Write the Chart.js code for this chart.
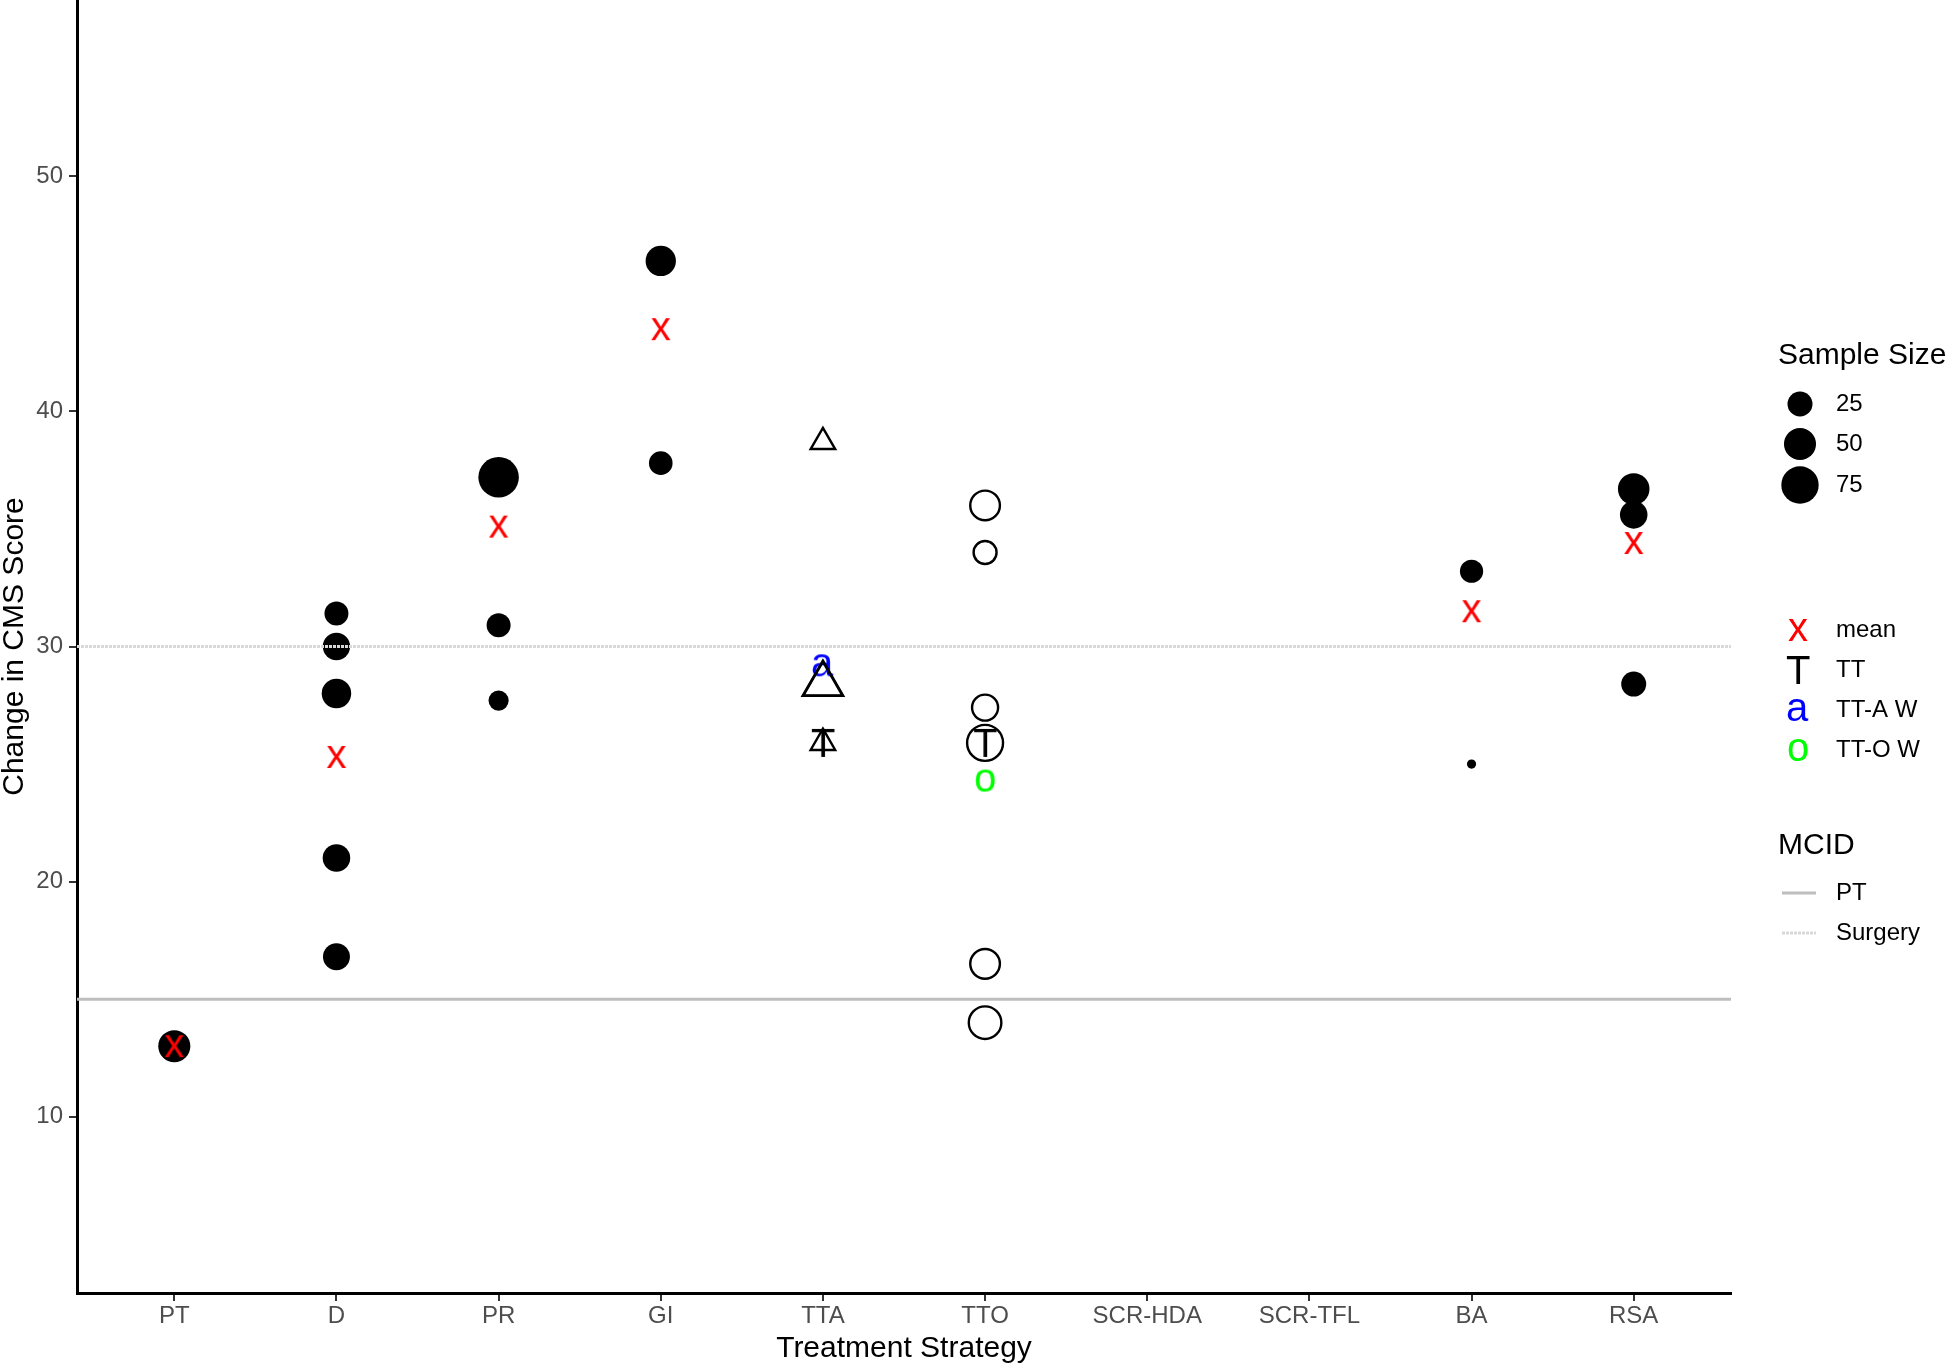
<!DOCTYPE html>
<html>
<head>
<meta charset="utf-8">
<script src="https://cdn.jsdelivr.net/npm/chart.js@4.4.0/dist/chart.umd.min.js"></script>
<style>
  html, body { margin: 0; padding: 0; background: #fff; }
  #wrap { position: relative; width: 1950px; height: 1367px; }
</style>
</head>
<body>
<div id="wrap"><canvas id="chart" width="1950" height="1367" style="width:1950px;height:1367px"></canvas></div>
<script>
const categories = ['PT', 'D', 'PR', 'GI', 'TTA', 'TTO', 'SCR-HDA', 'SCR-TFL', 'BA', 'RSA'];
const yTicks = [10, 20, 30, 40, 50];

// individual studies (filled dots)
const studyGroup = ['PT', 'D', 'D', 'D', 'D', 'D', 'PR', 'PR', 'PR', 'GI', 'GI', 'BA', 'BA', 'RSA', 'RSA', 'RSA'];
const studyChange = [13.0, 31.4, 30.0, 28.0, 21.0, 16.8, 37.2, 30.9, 27.7, 46.4, 37.8, 33.2, 25.0, 36.7, 35.6, 28.4];
const studySize = [50, 22, 32, 40, 33, 31, 92, 22, 13, 43, 21, 20, 2, 48, 33, 25];

// tendon transfer studies (open shapes)
const ttaChange = [38.7, 28.4, 28.4, 25.9];
const ttaSize = [14, 47, 52, 14];
const ttoChange = [36.0, 34.0, 27.4, 25.9, 16.5, 14.0];
const ttoSize = [50, 26, 36, 80, 50, 63];

// weighted means
const meanGroup = ['PT', 'D', 'PR', 'GI', 'BA', 'RSA'];
const meanChange = [13.0, 25.3, 35.1, 43.5, 31.5, 34.4];
const ttGroup = ['TTA', 'TTO'];
const ttChange = [25.9, 25.9];
const ttaWeighted = [29.2];
const ttoWeighted = [24.3];

// MCID thresholds
const mcidLabels = ['PT', 'Surgery'];
const mcidValues = [15, 30];

const legendSizes = [25, 50, 75];

const FONT = "'Liberation Sans', Arial, sans-serif";
const xMin = -0.6, xMax = 9.6;

Chart.defaults.font.family = FONT;

// marker radius from sample size (area-like scaling)
function sizeRadius(n) {
    return 4.6 + Math.sqrt(2.72 * Math.max(0, n - 2));
}

function drawGlyph(ctx, ch, color, x, y) {
    ctx.save();
    ctx.font = '40px ' + FONT;
    ctx.fillStyle = color;
    ctx.textAlign = 'left';
    ctx.textBaseline = 'alphabetic';
    const m = ctx.measureText(ch);
    ctx.fillText(ch, x - (m.actualBoundingBoxRight - m.actualBoundingBoxLeft) / 2,
        y + (m.actualBoundingBoxAscent - m.actualBoundingBoxDescent) / 2);
    ctx.restore();
}

function makeGlyph(ch, color) {
    const c = document.createElement('canvas');
    c.width = 60;
    c.height = 60;
    drawGlyph(c.getContext('2d'), ch, color, 30, 30);
    return c;
}

const idx = g => categories.indexOf(g);
const points = (groups, values, sizes) =>
    values.map((v, i) => ({ x: idx(groups[i]), y: v, n: sizes ? sizes[i] : 0 }));
const sameGroup = (g, values) => values.map(() => g);

const legendPlugin = {
    id: 'ggLegend',
    afterDraw(chart) {
        const ctx = chart.ctx;
        ctx.save();
        ctx.textAlign = 'left';
        ctx.textBaseline = 'middle';
        ctx.fillStyle = '#000';

        ctx.font = '30px ' + FONT;
        ctx.fillText('Sample Size', 1778, 356);
        const sizeY = [404, 444, 485];
        legendSizes.forEach((n, i) => {
            ctx.beginPath();
            ctx.arc(1800, sizeY[i], sizeRadius(n), 0, Math.PI * 2);
            ctx.fillStyle = '#000';
            ctx.fill();
            ctx.font = '24px ' + FONT;
            ctx.fillText(String(n), 1836, sizeY[i]);
        });

        const glyphs = [['x', '#FF0000', 'mean'], ['T', '#000000', 'TT'], ['a', '#0000FF', 'TT-A W'], ['o', '#00FF00', 'TT-O W']];
        glyphs.forEach((g, i) => {
            const y = 630 + i * 40;
            drawGlyph(ctx, g[0], g[1], 1798, y);
            ctx.fillStyle = '#000';
            ctx.font = '24px ' + FONT;
            ctx.fillText(g[2], 1836, y);
        });

        ctx.font = '30px ' + FONT;
        ctx.fillText('MCID', 1778, 846);
        mcidLabels.forEach((lab, i) => {
            const y = 893 + i * 40;
            ctx.beginPath();
            ctx.moveTo(1782, y);
            ctx.lineTo(1816, y);
            ctx.lineWidth = 3;
            ctx.strokeStyle = i === 0 ? '#BEBEBE' : '#D9D9D9';
            ctx.setLineDash(i === 0 ? [] : [3, 1]);
            ctx.stroke();
            ctx.setLineDash([]);
            ctx.font = '24px ' + FONT;
            ctx.fillText(lab, 1836, y);
        });
        ctx.restore();
    }
};

const mcidDatasets = mcidValues.map((v, i) => ({
    type: 'line',
    data: [{ x: xMin, y: v }, { x: xMax, y: v }],
    borderColor: i === 0 ? '#BEBEBE' : '#D9D9D9',
    borderDash: i === 0 ? [] : [3, 1],
    borderWidth: 3,
    pointRadius: 0,
    order: 0
}));

const glyphDataset = (data, glyph) => ({
    data: data,
    pointStyle: glyph,
    pointRadius: 10,
    order: 2
});

new Chart(document.getElementById('chart'), {
    type: 'scatter',
    data: {
        datasets: [
            ...mcidDatasets,
            {
                data: points(sameGroup('TTA', ttaChange), ttaChange, ttaSize),
                pointStyle: 'triangle',
                pointRadius: c => 1.555 * (sizeRadius(c.raw.n) - 1.2),
                backgroundColor: 'rgba(0,0,0,0)',
                borderColor: '#000',
                borderWidth: 2.4,
                order: 1
            },
            glyphDataset(points(meanGroup, meanChange), makeGlyph('x', '#FF0000')),
            glyphDataset(points(ttGroup, ttChange), makeGlyph('T', '#000000')),
            glyphDataset(points(['TTA'], ttaWeighted), makeGlyph('a', '#0000FF')),
            glyphDataset(points(['TTO'], ttoWeighted), makeGlyph('o', '#00FF00')),
            {
                data: points(sameGroup('TTO', ttoChange), ttoChange, ttoSize),
                pointStyle: 'circle',
                pointRadius: c => sizeRadius(c.raw.n) - 1.2,
                backgroundColor: 'rgba(0,0,0,0)',
                borderColor: '#000',
                borderWidth: 2.4,
                order: 3
            },
            {
                data: points(studyGroup, studyChange, studySize),
                pointStyle: 'circle',
                pointRadius: c => sizeRadius(c.raw.n),
                backgroundColor: '#000',
                borderWidth: 0,
                order: 4
            }
        ]
    },
    options: {
        responsive: false,
        maintainAspectRatio: false,
        animation: false,
        events: [],
        layout: { autoPadding: false, padding: { left: 0, top: 0, right: 219, bottom: 0 } },
        plugins: {
            legend: { display: false },
            tooltip: { enabled: false }
        },
        scales: {
            x: {
                type: 'linear',
                min: xMin,
                max: xMax,
                afterBuildTicks: s => { s.ticks = categories.map((c, i) => ({ value: i })); },
                afterFit: s => { s.height = 74; s.paddingLeft = 0; s.paddingRight = 0; },
                ticks: {
                    callback: v => categories[v],
                    autoSkip: false,
                    maxRotation: 0,
                    color: '#4D4D4D',
                    font: { size: 24 },
                    padding: 1
                },
                grid: { drawOnChartArea: false, tickLength: 8, color: '#333333', lineWidth: 2 },
                border: { color: '#000', width: 3 },
                title: {
                    display: true,
                    text: 'Treatment Strategy',
                    color: '#000',
                    font: { size: 30, lineHeight: 1 },
                    padding: { top: 0, bottom: 3 }
                }
            },
            y: {
                min: 2.5,
                max: 57.5,
                afterBuildTicks: s => { s.ticks = yTicks.map(v => ({ value: v })); },
                afterFit: s => { s.width = 77; s.paddingTop = 0; s.paddingBottom = 0; },
                ticks: {
                    color: '#4D4D4D',
                    font: { size: 24 },
                    padding: 6
                },
                grid: { drawOnChartArea: false, tickLength: 8, color: '#333333', lineWidth: 2 },
                border: { color: '#000', width: 3 },
                title: {
                    display: true,
                    text: 'Change in CMS Score',
                    color: '#000',
                    font: { size: 30, lineHeight: 1 },
                    padding: 0
                }
            }
        }
    },
    plugins: [legendPlugin]
});
</script>
</body>
</html>
